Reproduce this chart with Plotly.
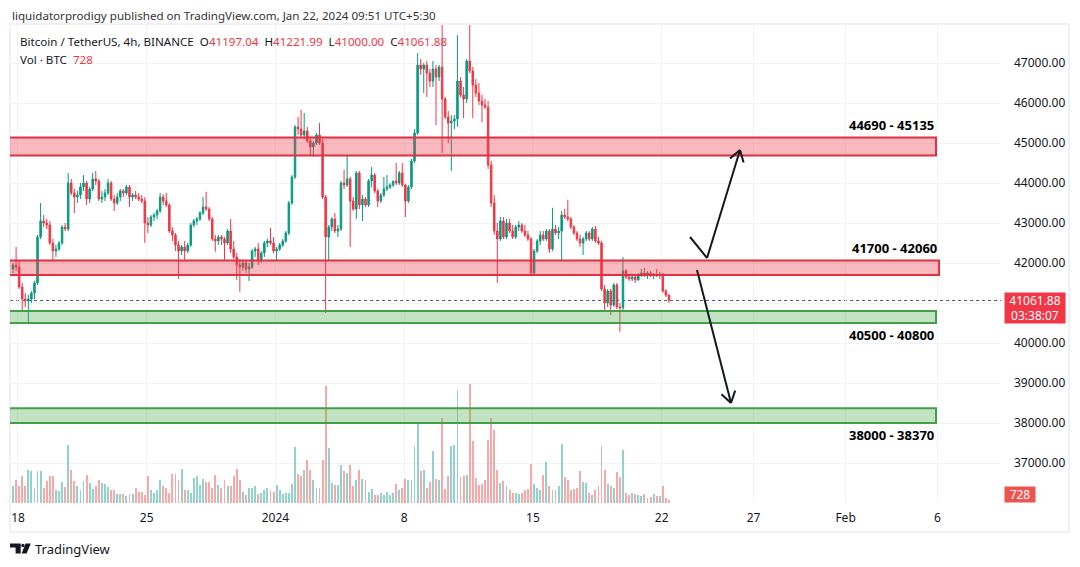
import math
import pandas as pd
import plotly.graph_objects as go

# ---------------- data (BTC/USDT 4h, Binance, local time UTC+5:30) ----------------
bar_start = "2023-12-17 17:30"

opens = [
    41850, 41950, 41900, 41400, 41100, 41050, 41100, 41250, 41500, 42650,
    43050, 43000, 42950, 42500, 42300, 42350, 42500, 42900, 42850, 44000,
    43750, 43650, 43700, 43900, 44000, 43600, 43850, 44100, 44050, 43600,
    43650, 43750, 44000, 43600, 43500, 43650, 43800, 43750, 43900, 43650,
    43700, 43650, 43600, 43550, 43000, 42950, 43150, 43200, 43300, 43650,
    43550, 43450, 42800, 42700, 42450, 42300, 42400, 42300, 42450, 42950,
    43050, 43100, 43250, 43400, 43350, 43100, 42600, 42550, 42650, 42600,
    42500, 42800, 42350, 42150, 41950, 41900, 42000, 41850, 41900, 42300,
    42350, 42050, 42250, 42500, 42550, 42500, 42300, 42350, 42450, 42550,
    42750, 43500, 44150, 45400, 45350, 45200, 45300, 45050, 44900, 45000,
    45200, 45000, 43650, 42650, 42900, 43100, 42800, 42850, 44000, 43950,
    44100, 43550, 43350, 44250, 43450, 43600, 43450, 44050, 44200, 43800,
    43550, 43700, 43850, 43900, 43950, 44050, 44000, 44250, 43950, 43550,
    43900, 44550, 45250, 46950, 46850, 46950, 46750, 46550, 46850, 46650,
    46900, 46100, 45650, 45500, 45550, 45600, 46550, 46200, 46100, 47050,
    46800, 46450, 46250, 46050, 45950, 45900, 44450, 43500, 42800, 42600,
    43050, 42650, 43000, 42800, 42650, 42900, 42950, 42800, 42700, 42600,
    41750, 42300, 42550, 42700, 42600, 42800, 42350, 42850, 42750, 42800,
    43200, 43150, 43100, 42900, 42750, 42600, 42500, 42600, 42750, 42600,
    42850, 42550, 42500, 41350, 41000, 41300, 40950, 41450, 40900, 40880,
    41800, 41650, 41600, 41650, 41580, 41700, 41750, 41700, 41750, 41680,
    41720, 41680, 41720, 41300, 41197.04,
]
highs = [
    42000, 42400, 42050, 41500, 41250, 41200, 41300, 41550, 42700, 43500,
    43200, 43100, 43050, 42600, 42450, 42550, 42950, 43000, 44250, 44100,
    43850, 43800, 44000, 44200, 44050, 43900, 44250, 44300, 44100, 43800,
    43850, 44100, 44050, 43700, 43750, 43850, 43850, 43950, 43950, 43750,
    43800, 43750, 43700, 43650, 43150, 43200, 43250, 43350, 43750, 43720,
    43750, 43500, 42900, 42750, 42550, 42450, 42550, 42500, 43000, 43100,
    43150, 43300, 43650, 43780, 43400, 43150, 42700, 42700, 42700, 42650,
    42850, 43100, 42550, 42250, 42100, 42050, 42050, 42000, 42350, 42400,
    42500, 42300, 42550, 42600, 42880, 42650, 42400, 42500, 42600, 42800,
    43550, 44200, 45450, 45650, 45830, 45750, 45400, 45150, 45050, 45250,
    45500, 45100, 43700, 42950, 43150, 43250, 42950, 44050, 44330, 44700,
    44150, 43650, 44300, 44300, 43700, 43650, 44100, 44400, 44250, 43850,
    43750, 44150, 44200, 44000, 44050, 44500, 44300, 44500, 43980, 43950,
    44600, 45350, 47250, 47100, 47000, 47050, 46850, 47050, 46950, 46950,
    47972, 46150, 45800, 45700, 45700, 47700, 46650, 46400, 47100, 48969,
    46900, 46600, 46500, 46200, 46100, 46050, 44550, 43700, 43000, 43150,
    43150, 43100, 43100, 42950, 42950, 43050, 43000, 42950, 42800, 42650,
    42350, 42600, 42800, 42800, 42850, 42850, 43380, 42950, 42900, 43300,
    43350, 43580, 43150, 42950, 42800, 42700, 42650, 42800, 42800, 42900,
    42930, 42650, 42550, 41450, 41350, 41350, 41500, 41500, 41000, 42150,
    41850, 41700, 41700, 41700, 41750, 41850, 41880, 41800, 41800, 41750,
    41850, 41780, 41750, 41350, 41221.99,
]
lows = [
    41750, 41800, 41350, 40800, 40900, 40500, 41000, 41100, 41450, 42600,
    42900, 42850, 42450, 42050, 42150, 42300, 42450, 42800, 42800, 43700,
    43250, 43500, 43600, 43800, 43450, 43500, 43800, 43950, 43550, 43500,
    43550, 43700, 43550, 43300, 43450, 43550, 43650, 43700, 43400, 43550,
    43600, 43550, 43500, 42500, 42750, 42900, 43050, 43100, 43250, 43450,
    43400, 42750, 42550, 42300, 41600, 42200, 42050, 42250, 42400, 42900,
    42950, 43050, 43200, 43300, 43050, 42550, 42280, 42450, 42450, 42080,
    42450, 42250, 42100, 41580, 41280, 41800, 41750, 41550, 41850, 42150,
    41950, 42000, 42150, 42400, 42450, 42250, 42050, 42300, 42400, 42500,
    42700, 43450, 44100, 45200, 45150, 45100, 45000, 44700, 44650, 44950,
    44950, 43600, 40750, 42050, 42800, 42750, 42650, 42800, 43850, 43900,
    42400, 43300, 43100, 43350, 43050, 43400, 43400, 43900, 43750, 43400,
    43500, 43650, 43800, 43850, 43900, 43950, 43950, 43900, 43150, 43500,
    43850, 44500, 45200, 46700, 46250, 46150, 46400, 46400, 45450, 46550,
    44750, 45600, 45000, 44300, 45350, 45400, 46150, 45620, 46000, 46750,
    45620, 46150, 45950, 45520, 45850, 44350, 43400, 42700, 41500, 42550,
    42600, 42600, 42750, 42600, 42600, 42800, 42750, 42650, 42550, 41700,
    41720, 42250, 42450, 42550, 42550, 42250, 42300, 42700, 42600, 42050,
    43100, 43050, 42850, 42700, 42550, 42400, 42200, 42550, 42550, 42550,
    42500, 42450, 41300, 40780, 40900, 40700, 40900, 40850, 40280, 40800,
    41600, 41550, 41550, 41500, 41550, 41650, 41650, 41600, 41650, 41600,
    41650, 41600, 41250, 41150, 41000.00,
]
closes = [
    41950, 41900, 41400, 41100, 41050, 41100, 41250, 41500, 42650, 43050,
    43000, 42950, 42500, 42300, 42350, 42500, 42900, 42850, 44000, 43750,
    43650, 43700, 43900, 44000, 43600, 43850, 44100, 44050, 43600, 43650,
    43750, 44000, 43600, 43500, 43650, 43800, 43750, 43900, 43650, 43700,
    43650, 43600, 43550, 43000, 42950, 43150, 43200, 43300, 43650, 43550,
    43450, 42800, 42700, 42450, 42300, 42400, 42300, 42450, 42950, 43050,
    43100, 43250, 43400, 43350, 43100, 42600, 42550, 42650, 42600, 42500,
    42800, 42350, 42150, 41950, 41900, 42000, 41850, 41900, 42300, 42350,
    42050, 42250, 42500, 42550, 42500, 42300, 42350, 42450, 42550, 42750,
    43500, 44150, 45400, 45350, 45200, 45300, 45050, 44900, 45000, 45200,
    45000, 43650, 42650, 42900, 43100, 42800, 42850, 44000, 43950, 44100,
    43550, 43350, 44250, 43450, 43600, 43450, 44050, 44200, 43800, 43550,
    43700, 43850, 43900, 43950, 44050, 44000, 44250, 43950, 43550, 43900,
    44550, 45250, 46950, 46850, 46950, 46750, 46550, 46850, 46650, 46900,
    46100, 45650, 45500, 45550, 45600, 46550, 46200, 46100, 47050, 46800,
    46450, 46250, 46050, 45950, 45900, 44450, 43500, 42800, 42600, 43050,
    42650, 43000, 42800, 42650, 42900, 42950, 42800, 42700, 42600, 41750,
    42300, 42550, 42700, 42600, 42800, 42350, 42850, 42750, 42800, 43200,
    43150, 43100, 42900, 42750, 42600, 42500, 42600, 42750, 42600, 42850,
    42550, 42500, 41350, 41000, 41300, 40950, 41450, 40900, 40880, 41800,
    41650, 41600, 41650, 41580, 41700, 41750, 41700, 41750, 41680, 41720,
    41680, 41720, 41300, 41197.04, 41061.88,
]
volumes = [
    4250, 5750, 4250, 6750, 4250, 8250, 8000, 3750, 8000, 8000,
    3750, 5500, 6750, 6750, 3250, 3000, 5250, 4000, 14500, 8250,
    5500, 4250, 3250, 5500, 7000, 5000, 3500, 4250, 5750, 5000,
    4750, 4000, 3250, 3250, 2250, 2250, 2250, 1750, 2250, 2250,
    3750, 2750, 2750, 2000, 6750, 3250, 2500, 3250, 5750, 4250,
    3750, 2500, 7250, 7250, 5750, 8500, 3250, 3250, 2500, 6250,
    6750, 4500, 6000, 5250, 5250, 3750, 7000, 4500, 3750, 5750,
    4250, 4250, 6750, 8500, 5750, 2750, 2000, 3750, 3750, 4250,
    2250, 2500, 3250, 3750, 3250, 2750, 4500, 3250, 2250, 2500,
    2500, 4750, 14000, 7250, 6750, 8250, 10750, 8250, 5750, 3750,
    3750, 10750, 29250, 13750, 5000, 4500, 4500, 9500, 8000, 7500,
    9500, 4250, 5750, 8250, 6000, 5750, 2750, 3500, 2000, 2000,
    2500, 2000, 2750, 2000, 2500, 4750, 3250, 3750, 6000, 5750,
    5750, 14250, 19750, 8000, 8250, 3750, 5250, 13000, 6000, 5750,
    21250, 3500, 6750, 14250, 14500, 28250, 6500, 6750, 7000, 29750,
    15500, 6250, 4500, 4750, 5750, 15750, 21250, 18250, 8250, 5000,
    5500, 4250, 3250, 2500, 2500, 2250, 2500, 3250, 3500, 9750,
    4750, 3750, 3250, 7000, 10250, 4250, 3250, 3250, 4250, 14750,
    6500, 5750, 3250, 3500, 3750, 8000, 5250, 5000, 2500, 2000,
    3250, 4250, 14250, 8250, 4750, 4250, 3750, 7750, 6500, 13250,
    2500, 2000, 2500, 2250, 2000, 1750, 2250, 1250, 1500, 2250,
    1750, 1750, 4250, 1250, 728,
]

zone_lows = [44690, 41700, 40500, 38000]
zone_highs = [45135, 42060, 40800, 38370]
zone_kinds = ["supply", "supply", "demand", "demand"]
zone_ends = ["2024-02-05 22:00", "2024-02-06 02:00", "2024-02-05 22:00", "2024-02-05 22:00"]

tick_dates = ["2023-12-18", "2023-12-25", "2024-01-01", "2024-01-08", "2024-01-15",
              "2024-01-22", "2024-01-27", "2024-02-01", "2024-02-06"]
tick_text = ["18", "25", "2024", "8", "15", "22", "27", "Feb", "6"]
price_ticks = [37000, 38000, 39000, 40000, 41000, 42000, 43000, 44000, 45000, 46000, 47000]
hidden_price_ticks = [41000]  # covered by the last-price label in the reference

countdown = "03:38:07"
header_top = "liquidatorprodigy published on TradingView.com, Jan 22, 2024 09:51 UTC+5:30"
symbol_text = "Bitcoin / TetherUS, 4h, BINANCE"

# arrows (tradingview drawings): (time, price) anchors
arrow_up = [("2024-01-23 13:00", 42650), ("2024-01-24 11:15", 42125), ("2024-01-26 06:15", 44825)]
arrow_down = [("2024-01-23 22:05", 41825), ("2024-01-25 18:30", 38500)]

# ---------------- layout geometry ----------------
W, H = 1080, 567
ML, MR, MT, MB = 10, 79, 25, 64
PW, PH = W - ML - MR, H - MT - MB
x_range = [pd.Timestamp("2023-12-17 13:34"), pd.Timestamp("2024-02-09 10:50")]
y_range = [36000, 47950]
PX_PER_DAY = PW / ((x_range[1] - x_range[0]).total_seconds() / 86400)
PX_PER_USD = PH / (y_range[1] - y_range[0])


def px_x(px):
    return (px - ML) / PW


def px_y(py):
    return (H - MB - py) / PH


RED = "#f23645"
GREEN = "#089981"
TXT = "#131722"

times = pd.date_range(bar_start, periods=len(closes), freq="4h")
vol_colors = ["rgba(38,166,154,0.5)" if c >= o else "rgba(239,83,80,0.5)"
              for o, c in zip(opens, closes)]

fig = go.Figure()
fig.add_trace(go.Bar(
    x=times, y=volumes, yaxis="y2", marker=dict(color=vol_colors, line=dict(width=0)),
    width=4 * 3600 * 1000 * 0.62, hoverinfo="skip", showlegend=False,
))
fig.add_trace(go.Candlestick(
    x=times, open=opens, high=highs, low=lows, close=closes,
    increasing=dict(line=dict(color=GREEN, width=1), fillcolor=GREEN),
    decreasing=dict(line=dict(color=RED, width=1), fillcolor=RED),
    whiskerwidth=0, showlegend=False,
))

shapes = []
# zones
for lo, hi, kind, end in zip(zone_lows, zone_highs, zone_kinds, zone_ends):
    if kind == "supply":
        fill, edge = "rgba(242,54,69,0.35)", "#e0303f"
    else:
        fill, edge = "rgba(76,175,80,0.35)", "#43a047"
    shapes.append(dict(type="rect", xref="x", yref="y", x0="2023-12-10", x1=end,
                       y0=lo, y1=hi, fillcolor=fill, line=dict(color=edge, width=2),
                       layer="above"))
# current price dotted line
shapes.append(dict(type="line", xref="paper", yref="y", x0=0, x1=1, y0=closes[-1], y1=closes[-1],
                   line=dict(color="#5d606b", width=1, dash="dot"), layer="below"))


def seg(p, q, width=2):
    return dict(type="line", xref="x", yref="y", x0=p[0], y0=p[1], x1=q[0], y1=q[1],
                line=dict(color=TXT, width=width), layer="above")


def chevron(tail, tip, length=13, spread=33):
    t0, t1 = pd.Timestamp(tail[0]), pd.Timestamp(tip[0])
    dx = (t1 - t0).total_seconds() / 86400 * PX_PER_DAY
    dy = -(tip[1] - tail[1]) * PX_PER_USD
    ang = math.atan2(dy, dx)
    arms = []
    for s in (1, -1):
        a = ang + math.pi + s * math.radians(spread)
        ex, ey = length * math.cos(a), length * math.sin(a)
        arms.append((str(t1 + pd.Timedelta(days=ex / PX_PER_DAY)), tip[1] - ey / PX_PER_USD))
    return arms


for pts in (arrow_up, arrow_down):
    for a, b in zip(pts[:-1], pts[1:]):
        shapes.append(seg(a, b))
    for arm in chevron(pts[-2], pts[-1]):
        shapes.append(seg(pts[-1], arm))

# outer frame
shapes.append(dict(type="rect", xref="paper", yref="paper", x0=px_x(10), x1=px_x(1069),
                   y0=px_y(532), y1=px_y(24), line=dict(color="#e0e3eb", width=1),
                   fillcolor="rgba(0,0,0,0)", layer="below"))


# TradingView logo
def path_px(points):
    return "M " + " L ".join(f"{px_x(x):.5f},{px_y(y):.5f}" for x, y in points) + " Z"


shapes.append(dict(type="path", xref="paper", yref="paper",
                   path=path_px([(10, 543.5), (20.7, 543.5), (20.7, 553.5), (15.6, 553.5),
                                 (15.6, 547.6), (10, 547.6)]),
                   fillcolor=TXT, line=dict(width=0)))
shapes.append(dict(type="circle", xref="paper", yref="paper", x0=px_x(21.2), x1=px_x(24.6),
                   y0=px_y(547.2), y1=px_y(543.8), fillcolor=TXT, line=dict(width=0)))
shapes.append(dict(type="path", xref="paper", yref="paper",
                   path=path_px([(25.6, 543.5), (30.8, 543.5), (26.6, 553.5), (21.6, 553.5)]),
                   fillcolor=TXT, line=dict(width=0)))

FONT = "Noto Sans"
ann = []


def text(x, y, s, size=12, color=TXT, xanchor="left", **kw):
    d = dict(xref="paper", yref="paper", x=px_x(x), y=px_y(y), text=s, showarrow=False,
             xanchor=xanchor, yanchor="middle", font=dict(family=FONT, size=size, color=color))
    d.update(kw)
    ann.append(d)


def red(v):
    return f"<span style='color:{RED}'>{v}</span>"


GAP = "&nbsp;&nbsp;"
ohlc_line = (symbol_text + GAP
             + "O" + red(f"{opens[-1]:.2f}") + GAP
             + "H" + red(f"{highs[-1]:.2f}") + GAP
             + "L" + red(f"{lows[-1]:.2f}") + GAP
             + "C" + red(f"{closes[-1]:.2f}"))

text(10, 15, header_top, size=11.6, color="#333333")
text(18, 42, ohlc_line, size=11.6)
text(18, 59, "Vol · BTC&nbsp;&nbsp;" + red(f"{volumes[-1]}"), size=11.6)
text(33, 549, "TradingView", size=13, color=TXT)

# zone labels
for lo, hi, kind, end in zip(zone_lows, zone_highs, zone_kinds, zone_ends):
    above = lo > 41000
    ann.append(dict(xref="x", yref="y", x=end, y=hi if above else lo,
                    text=f"<b>{lo} - {hi}</b>", showarrow=False, xanchor="right",
                    yanchor="bottom" if above else "top", yshift=2 if above else -1,
                    font=dict(family=FONT, size=13, color="#000000")))

# last price label
ann.append(dict(xref="paper", yref="y", x=1 + 3 / PW, y=closes[-1], yanchor="top", yshift=9,
                xanchor="left", text=f"{closes[-1]:.2f}<br>{countdown}", showarrow=False,
                bgcolor=RED, font=dict(family=FONT, size=12, color="white"),
                width=56, height=26, borderpad=2, align="center"))
# volume label
ann.append(dict(xref="paper", yref="paper", x=1 + 3 / PW, y=0, yanchor="bottom",
                xanchor="left", text=f"{volumes[-1]}", showarrow=False,
                bgcolor="#ef5350", font=dict(family=FONT, size=12, color="white"),
                width=28, height=13, borderpad=1, align="center"))

fig.update_layout(
    width=W, height=H, margin=dict(l=ML, r=MR, t=MT, b=MB),
    paper_bgcolor="white", plot_bgcolor="white", showlegend=False,
    font=dict(family=FONT, size=12, color=TXT),
    xaxis=dict(type="date", range=[str(x_range[0]), str(x_range[1])],
               rangeslider=dict(visible=False), tickvals=tick_dates, ticktext=tick_text,
               showgrid=True, gridcolor="#f0f3fa", zeroline=False, showline=False, ticks="",
               tickfont=dict(family=FONT, size=12, color=TXT), ticklabelstandoff=6,
               fixedrange=True),
    yaxis=dict(range=y_range, side="right", tickvals=price_ticks,
               ticktext=["" if p in hidden_price_ticks else f"{p:.2f}" for p in price_ticks],
               showgrid=True, gridcolor="#f0f3fa",
               zeroline=False, showline=False, ticks="", ticklabelstandoff=12,
               tickfont=dict(family=FONT, size=12, color=TXT)),
    yaxis2=dict(overlaying="y", range=[0, PH * 250], visible=False),
    shapes=shapes, annotations=ann, bargap=0,
)

fig.write_html("out.html")
